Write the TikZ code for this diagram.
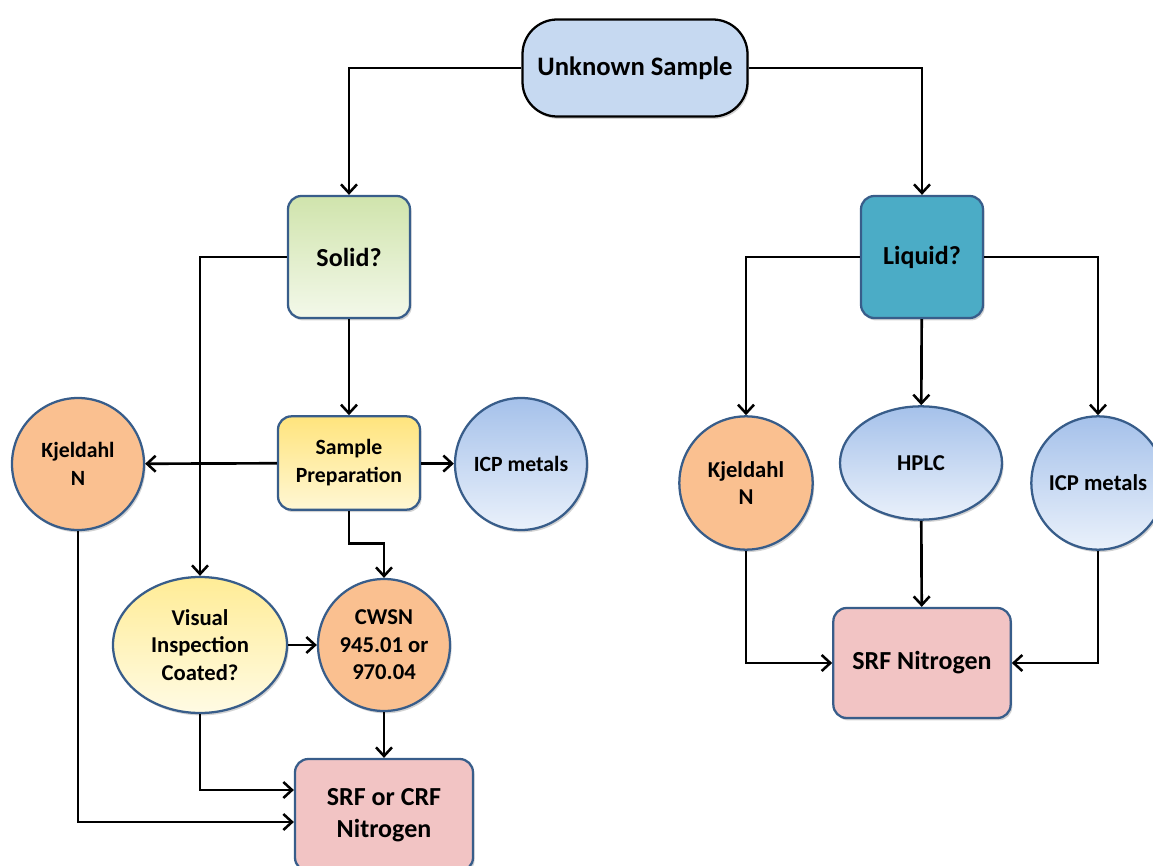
\documentclass[tikz,border=0pt]{standalone}
\usepackage{fontspec}
\setmainfont{Carlito}
\usetikzlibrary{arrows.meta,shapes.geometric,shadows}
\definecolor{boxline}{HTML}{385D8A}
\definecolor{kjelfill}{HTML}{FAC090}
\definecolor{srffill}{HTML}{F2C4C4}
\definecolor{liqfill}{HTML}{4BACC6}
\definecolor{unkfill}{HTML}{C6D9F1}
\tikzset{shade/.style = {drop shadow = {shadow xshift = 1.2pt, shadow yshift = -1.8pt, opacity = 0.35}}}
\tikzset{roundbox/.style = {shape = rectangle, draw = boxline, line width = 1.7pt, rounded corners = 10pt, align = center, inner sep = 0pt, shade}}
\tikzset{disc/.style = {shape = circle, draw = boxline, line width = 1.7pt, minimum size = 99pt, align = center, inner sep = 0pt, shade}}
\tikzset{oval/.style = {shape = ellipse, draw = boxline, line width = 1.7pt, align = center, inner sep = 0pt, shade}}
\tikzset{edge/.style = {-{Straight Barb[length = 6.5pt, width = 12pt, line width = 1.9pt]}, line width = 2pt}}
\newcommand{\bigtxt}{\bfseries\fontsize{19.5}{24}\selectfont}
\newcommand{\midtxt}{\bfseries\fontsize{17}{20.6}\selectfont}
\newcommand{\smalltxt}{\bfseries\fontsize{16.3}{21}\selectfont}

\begin{document}
\begin{tikzpicture}[x = 0.75pt, y = -0.75pt]
	\useasboundingbox (0, 0) rectangle (1153, 866);
	\clip (0, 0) rectangle (1153, 866);

	% top of the tree
	\node[roundbox, draw = black, fill = unkfill, rounded corners = 26pt, minimum width = 168.75pt, minimum height = 72.75pt, font = \bfseries\fontsize{20}{24}\selectfont] (unk) at (635, 68) {Unknown Sample};
	\node[roundbox, top color = {rgb,255:red,208;green,228;blue,172}, bottom color = {rgb,255:red,243;green,248;blue,234}, minimum size = 91.5pt, font = \bigtxt] (solid) at (349, 257) {Solid?};
	\node[roundbox, fill = liqfill, minimum size = 91.5pt, font = \bigtxt] (liquid) at (922, 257) {Liquid?};

	% solid branch
	\node[roundbox, top color = {rgb,255:red,255;green,228;blue,125}, bottom color = {rgb,255:red,255;green,247;blue,212}, minimum width = 106.5pt, minimum height = 70pt, font = \smalltxt] (prep) at (349, 463) {Sample\\Preparation};
	\node[disc, fill = kjelfill, font = \smalltxt] (kjl) at (78, 464) {Kjeldahl\\N};
	\node[disc, top color = {rgb,255:red,165;green,193;blue,234}, bottom color = {rgb,255:red,234;green,241;blue,251}, font = \smalltxt] (icpl) at (521, 464) {ICP metals};
	\node[oval, top color = {rgb,255:red,255;green,236;blue,150}, bottom color = {rgb,255:red,255;green,251;blue,228}, minimum width = 130.5pt, minimum height = 102pt, font = \midtxt] (vis) at (200, 645) {Visual\\Inspection\\Coated?};
	\node[disc, fill = kjelfill, font = \midtxt] (cwsn) at (384, 645) {CWSN\\945.01 or\\970.04};
	\node[roundbox, fill = srffill, minimum width = 133.5pt, minimum height = 84pt, font = \bigtxt] (srf) at (384, 815) {SRF or CRF\\Nitrogen};

	% liquid branch
	\node[disc, fill = kjelfill, minimum size = 100pt, font = \midtxt] (kjr) at (746, 483) {Kjeldahl\\N};
	\node[oval, top color = {rgb,255:red,165;green,193;blue,234}, bottom color = {rgb,255:red,234;green,241;blue,251}, minimum width = 121.5pt, minimum height = 85pt, font = \midtxt] (hplc) at (921, 463) {HPLC};
	\node[disc, top color = {rgb,255:red,165;green,193;blue,234}, bottom color = {rgb,255:red,234;green,241;blue,251}, minimum size = 100pt, font = \midtxt] (icpr) at (1098, 483) {ICP metals};
	\node[roundbox, fill = srffill, minimum width = 133pt, minimum height = 82.5pt, font = \bigtxt] (srfn) at (922, 663) {SRF Nitrogen};

	\draw[edge] (unk.west) -| (solid.north);
	\draw[edge] (unk.east) -| (liquid.north);

	\draw[edge] (solid) -- (prep);
	\draw[edge] (solid.west) -| (vis.north);
	\draw[edge] (prep) -- (kjl);
	\draw[edge] (prep) -- (icpl);
	\draw[edge] (prep.south) -- ++(0, 33) -| (cwsn.north);
	\draw[edge] (vis) -- (cwsn);
	\draw[edge] (cwsn) -- (srf);
	\draw[edge] (vis.south) |- ([yshift = 18.75pt]srf.west);
	\draw[edge] (kjl.south) |- ([yshift = -5.25pt]srf.west);

	\draw[edge] (liquid.west) -| (kjr.north);
	\draw[edge] (liquid) -- (hplc);
	\draw[edge] (liquid.east) -| (icpr.north);
	\draw[edge] (kjr.south) |- (srfn.west);
	\draw[edge] (hplc) -- (srfn);
	\draw[edge] (icpr.south) |- (srfn.east);
\end{tikzpicture}
\end{document}
